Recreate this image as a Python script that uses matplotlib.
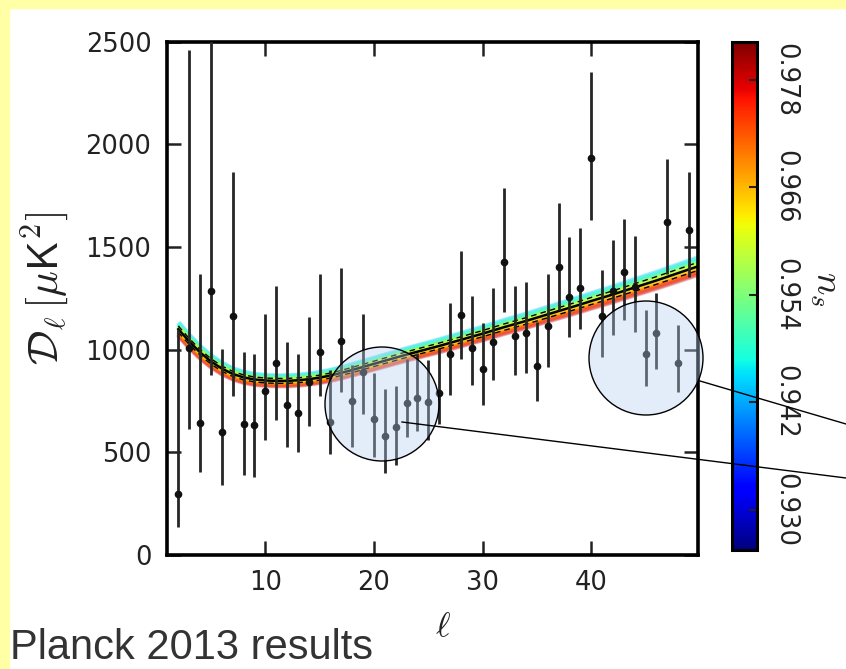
import numpy as np
import matplotlib
matplotlib.use("Agg")
import matplotlib.pyplot as plt
import matplotlib.colors as mcolors
from matplotlib.cm import ScalarMappable
from matplotlib.patches import Circle, Rectangle
from matplotlib.lines import Line2D

# ---------------- data ----------------
ell = list(range(2, 50))
Dl = [299, 1009, 645, 1287, 600, 1163, 640, 632, 800, 933,
      730, 692, 844, 987, 649, 1043, 751, 892, 660, 579,
      621, 738, 764, 744, 790, 978, 1167, 1006, 904, 1037,
      1428, 1069, 1082, 920, 1115, 1404, 1258, 1298, 1932, 1165,
      1287, 1379, 1303, 978, 1079, 1623, 936, 1582]
Dl_lo = [137, 616, 402, 875, 340, 774, 389, 381, 559, 657,
         524, 502, 629, 774, 494, 795, 527, 689, 478, 400,
         437, 576, 605, 560, 640, 779, 957, 827, 730, 852,
         1185, 879, 887, 751, 917, 1193, 1063, 1103, 1631, 962,
         1071, 1144, 1085, 824, 904, 1371, 795, 1355]
Dl_hi = [1103, 2459, 1368, 2700, 1001, 1863, 990, 978, 1176, 1310,
         1038, 981, 1157, 1371, 900, 1400, 925, 1176, 884, 808,
         822, 957, 985, 949, 1010, 1225, 1482, 1261, 1131, 1298,
         1789, 1310, 1331, 1136, 1368, 1712, 1547, 1594, 2354, 1388,
         1534, 1636, 1555, 1193, 1274, 1927, 1119, 1865]

ell_model = list(range(2, 51))
Dl_model = [1100, 1040, 987, 943, 908, 882, 865, 855, 850, 848,
            848, 851, 856, 864, 874, 887, 901, 916, 931, 946,
            961, 976, 990, 1004, 1018, 1033, 1048, 1063, 1078, 1094,
            1110, 1125, 1140, 1156, 1172, 1188, 1204, 1220, 1237, 1253,
            1269, 1286, 1303, 1320, 1337, 1355, 1373, 1391, 1409]

ns_ticks = [0.930, 0.942, 0.954, 0.966, 0.978]
ns_min, ns_max = 0.9255, 0.9822
band_ns = list(np.linspace(0.943, 0.980, 24))
band_mid = 0.962
band_slope = 1.6          # fractional spread of band per unit n_s
dash_frac = 0.014
x_ticks = [10, 20, 30, 40]
y_ticks = [0, 500, 1000, 1500, 2000, 2500]

# ---------------- figure ----------------
W, H = 846, 669
fig = plt.figure(figsize=(W / 100, H / 100), dpi=100)
fig.patch.set_facecolor("white")
plt.rcParams["mathtext.fontset"] = "cm"

yel = "#ffffa6"
fig.add_artist(Rectangle((0, 0), 9 / W, 1, transform=fig.transFigure,
                         color=yel, zorder=0))
fig.add_artist(Rectangle((0, 1 - 8 / H), 1, 8 / H, transform=fig.transFigure,
                         color=yel, zorder=0))

ax = fig.add_axes([166.7 / W, 1 - 555 / H, (697.7 - 166.7) / W, (555 - 41.7) / H])
ax.set_xlim(0.93, 49.8)
ax.set_ylim(0, 2500)

cmap = plt.get_cmap("jet")
norm = mcolors.Normalize(ns_min, ns_max)
lm = np.array(ell_model, float)
dm = np.array(Dl_model, float)
order = sorted(band_ns, key=lambda v: -abs(v - band_mid))
for ns in order:
    ax.plot(lm, dm * (1 + band_slope * (band_mid - ns)), color=cmap(norm(ns)),
            lw=3.6, alpha=0.24, solid_capstyle="butt", zorder=1)
ax.plot(lm, dm, color="black", lw=1.8, zorder=2)
ax.plot(lm, dm * (1 + dash_frac), color="black", lw=1.0, ls=(0, (4, 3)), zorder=2)
ax.plot(lm, dm * (1 - dash_frac), color="black", lw=1.0, ls=(0, (4, 3)), zorder=2)

D = np.array(Dl, float)
lo = np.array(Dl_lo, float)
hi = np.array(Dl_hi, float)
ax.errorbar(ell, D, yerr=[D - lo, hi - D], fmt="o", color="#111111",
            ecolor="#262626", elinewidth=2.0, ms=4.5, capsize=0, zorder=3)

for s in ax.spines.values():
    s.set_linewidth(2.6)
ax.set_xticks(x_ticks)
ax.set_yticks(y_ticks)
ax.tick_params(direction="in", length=10, width=1.8, top=True, right=True,
               labelsize=18.5, pad=11, colors="#222222")
for lab in ax.get_xticklabels() + ax.get_yticklabels():
    lab.set_family("DejaVu Sans")

fig.text(46 / W, 1 - 288 / H, r"$\mathcal{D}_\ell\,[\mu\mathsf{K}^2]$",
         rotation=90, ha="center", va="center", fontsize=31, color="#222222")
fig.text(443 / W, 1 - 626 / H, r"$\ell$", ha="center", va="center",
         fontsize=25, color="#222222")

# colorbar
cax = fig.add_axes([732 / W, 1 - 550 / H, 25 / W, (550 - 42) / H])
cb = fig.colorbar(ScalarMappable(norm=norm, cmap=cmap), cax=cax, ticks=ns_ticks)
cb.outline.set_linewidth(2.2)
cax.tick_params(direction="in", length=6, width=1.5, labelsize=18.5, pad=11,
                colors="#222222")
cax.set_yticklabels([f"{t:.3f}" for t in ns_ticks], rotation=270, va="center")
fig.text(826 / W, 1 - 289 / H, r"$n_s$", rotation=270, ha="center",
         va="center", fontsize=27, color="#222222")

# highlight circles and pointer lines
for cx, cy in [(382, 404), (646, 358)]:
    fig.add_artist(Circle((cx / 100, (H - cy) / 100), 0.57,
                          transform=fig.dpi_scale_trans, facecolor="#b7d2f0",
                          alpha=0.38, edgecolor="none", zorder=5))
    fig.add_artist(Circle((cx / 100, (H - cy) / 100), 0.57,
                          transform=fig.dpi_scale_trans, facecolor="none",
                          edgecolor="black", lw=1.0, zorder=6))
for (x1, y1), (x2, y2) in [((402, 422), (846, 478)), ((700, 381), (846, 424))]:
    fig.add_artist(Line2D([x1 / 100, x2 / 100], [(H - y1) / 100, (H - y2) / 100],
                          transform=fig.dpi_scale_trans, color="black", lw=1.0,
                          zorder=6))

fig.text(10 / W, 1 / H, "Planck 2013 results", fontsize=30,
         family="Liberation Sans", color="#333333", ha="left", va="bottom")

fig.savefig("out.png", dpi=100)
